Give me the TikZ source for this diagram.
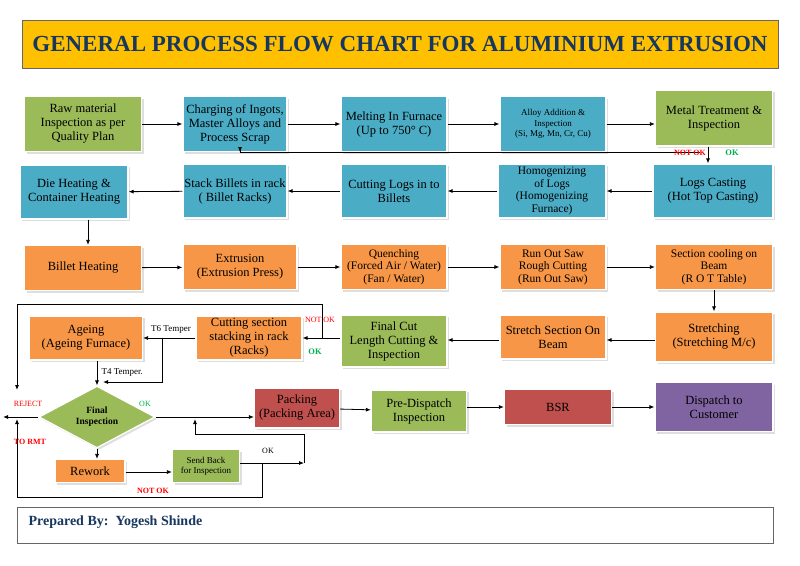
\documentclass[tikz,border=0pt]{standalone}
\usepackage{fontspec}
\setmainfont{Liberation Serif}
\usetikzlibrary{shapes.geometric,arrows.meta,shadows}
\definecolor{gr}{HTML}{9BBB59}\definecolor{bl}{HTML}{4BACC6}\definecolor{orr}{HTML}{F79646}
\definecolor{rd}{HTML}{C0504D}\definecolor{pu}{HTML}{8064A2}\definecolor{tit}{HTML}{FFC000}
\definecolor{nv}{HTML}{17375E}\definecolor{okg}{HTML}{00B050}
\begin{document}
\begin{tikzpicture}[x=1pt,y=-1pt,
 bx/.style={draw=white,line width=1.2pt,align=center,font=\fontsize{12.5}{14}\selectfont,inner sep=1pt,
   drop shadow={shadow xshift=2pt,shadow yshift=-2pt,fill=black!25}},
 ar/.style={-{Latex[length=5pt,width=4pt]},line width=0.8pt},
 ln/.style={line width=0.8pt},
 lab/.style={font=\fontsize{8}{9}\selectfont}]
\useasboundingbox (0,0) rectangle (800,565);
\fill[white] (0,0) rectangle (800,565);
\node[draw=black!60,fill=tit,minimum width=756,minimum height=48,font=\fontsize{23}{26}\selectfont\bfseries,text=nv] (title) at (400,44) {GENERAL PROCESS FLOW CHART FOR ALUMINIUM EXTRUSION};
% row1
\node[bx,fill=gr,minimum width=117,minimum height=55] (raw) at (83,124) {Raw material\\Inspection as per\\Quality Plan};
\node[bx,fill=bl,minimum width=104,minimum height=55] (chg) at (235,124) {Charging of Ingots,\\Master Alloys and\\Process Scrap};
\node[bx,fill=bl,minimum width=106,minimum height=55] (mel) at (394,124) {Melting In Furnace\\(Up to 750° C)};
\node[bx,fill=bl,minimum width=106,minimum height=55,font=\fontsize{9}{10.5}\selectfont] (all) at (553,124) {Alloy Addition \&\\Inspection\\(Si, Mg, Mn, Cr, Cu)};
\node[bx,fill=gr,minimum width=117,minimum height=56] (met) at (714,118) {Metal Treatment \&\\Inspection};
% row2
\node[bx,fill=bl,minimum width=108,minimum height=54] (die) at (74,192) {Die Heating \&\\Container Heating};
\node[bx,fill=bl,minimum width=104,minimum height=54] (stk) at (235,191) {Stack Billets in rack\\( Billet Racks)};
\node[bx,fill=bl,minimum width=106,minimum height=54] (cut) at (394,191) {Cutting Logs in to\\Billets};
\node[bx,fill=bl,minimum width=108,minimum height=54,font=\fontsize{11.5}{12.5}\selectfont] (hom) at (552,191) {Homogenizing\\of Logs\\(Homogenizing\\Furnace)};
\node[bx,fill=bl,minimum width=120,minimum height=54] (log) at (713,191) {Logs Casting\\(Hot Top Casting)};
% row3
\node[bx,fill=orr,minimum width=117,minimum height=45] (bil) at (83,268) {Billet Heating};
\node[bx,fill=orr,minimum width=114,minimum height=45] (ext) at (240,267) {Extrusion\\(Extrusion Press)};
\node[bx,fill=orr,minimum width=106,minimum height=45,font=\fontsize{11.5}{12.5}\selectfont] (que) at (394,267) {Quenching\\(Forced Air / Water)\\(Fan / Water)};
\node[bx,fill=orr,minimum width=106,minimum height=45,font=\fontsize{11.5}{12.5}\selectfont] (run) at (553,267) {Run Out Saw\\Rough Cutting\\(Run Out Saw)};
\node[bx,fill=orr,minimum width=117,minimum height=45,font=\fontsize{11.5}{12.5}\selectfont] (sec) at (714,267) {Section cooling on\\Beam\\(R O T Table)};
% row4
\node[bx,fill=orr,minimum width=117,minimum height=50] (str) at (714,337) {Stretching\\(Stretching M/c)};
\node[bx,fill=orr,minimum width=106,minimum height=44] (ssb) at (553,337) {Stretch Section On\\Beam};
\node[bx,fill=gr,minimum width=106,minimum height=52] (fc) at (394,341) {Final Cut\\Length Cutting \&\\Inspection};
\node[bx,fill=orr,minimum width=106,minimum height=44] (csr) at (249,338) {Cutting section\\stacking in rack\\(Racks)};
\node[bx,fill=orr,minimum width=113,minimum height=44] (age) at (86,338) {Ageing\\(Ageing Furnace)};
% row5
\node[diamond,draw=white,line width=1.2pt,fill=gr,minimum width=116,minimum height=56,inner sep=0pt,align=center,font=\fontsize{9.5}{11}\selectfont\bfseries,drop shadow={shadow xshift=2pt,shadow yshift=-2pt,fill=black!25}] (fi) at (97,417) {Final\\Inspection};
\node[bx,fill=rd,minimum width=85,minimum height=40] (pak) at (297,408) {Packing\\(Packing Area)};
\node[bx,fill=gr,minimum width=95,minimum height=42] (pre) at (419,411) {Pre-Dispatch\\Inspection};
\node[bx,fill=rd,minimum width=107,minimum height=35] (bsr) at (558,407) {BSR};
\node[bx,fill=pu,minimum width=118,minimum height=49] (dis) at (714,407) {Dispatch to\\Customer};
\node[bx,fill=orr,minimum width=70,minimum height=23] (rew) at (90,471) {Rework};
\node[bx,fill=gr,minimum width=67,minimum height=33,font=\fontsize{9}{10}\selectfont] (sb) at (206,466) {Send Back\\for Inspection};
\node[draw=black!60,minimum width=756,minimum height=36,anchor=west] (prep) at (17,525) {};
\node[anchor=west,font=\fontsize{14}{16}\selectfont\bfseries,text=nv] (preptext) at (25,522) {Prepared By:\ \ Yogesh Shinde};
% arrows
\draw[ar] (raw) -- (chg); \draw[ar] (chg) -- (mel); \draw[ar] (mel) -- (all); \draw[ar] (all.east) -- (met.west|-all.east);
\draw[ar] (met.south-|708,0) -- (log.north-|708,0);
\draw[ar] (700,152) -- (240,152) -- (chg.south-|240,0);
\node[text=red,font=\fontsize{8}{9}\selectfont\bfseries] (nok1) at (690,153) {NOT OK};
\node[text=okg,font=\fontsize{8.5}{9}\selectfont\bfseries] (ok1) at (732,153) {OK};
\draw[ar] (log) -- (hom); \draw[ar] (hom) -- (cut); \draw[ar] (cut) -- (stk); \draw[ar] (stk) -- (die);
\draw[ar] (die.south-|88,0) -- (bil.north-|88,0);
\draw[ar] (bil) -- (ext); \draw[ar] (ext) -- (que); \draw[ar] (que) -- (run); \draw[ar] (run) -- (sec);
\draw[ar] (sec) -- (str); \draw[ar] (str.west|-0,340) -- (ssb.east|-0,340); \draw[ar] (ssb.west|-0,340) -- (fc.east|-0,340);
\draw[ar] (fc.west|-0,338) -- (csr.east|-0,338);
\draw[ln] (322,338) -- (322,304) -- (17,304); \draw[ar] (17,304) -- (17,390);
\node[lab,text=red] (nok2) at (320,320) {NOT OK};
\node[text=okg,font=\fontsize{8.5}{9}\selectfont\bfseries] (ok2) at (315,352) {OK};
\draw[ar] (csr.west|-0,338) -- (age.east|-0,338);
\node[font=\fontsize{9}{10}\selectfont] (t6) at (171,329) {T6 Temper};
\draw[ar] (162,338) -- (162,382) -- (103,382);
\draw[ar] (age.south-|97,0) -- (fi.north);
\node[font=\fontsize{9}{10}\selectfont,anchor=west] (t4) at (98,372) {T4 Temper.};
\draw[ar] (fi.west) -- (3,417);
\node[lab,text=red] (rej) at (28,404) {REJECT};
\draw[ar] (fi.east) -- (pak.west|-fi.east);
\node[lab,text=okg] (ok3) at (145,404) {OK};
\draw[ar] (pak) -- (pre); \draw[ar] (pre.east|-bsr) -- (bsr); \draw[ar] (bsr) -- (dis);
\draw[ar] (fi.south) -- (rew.north-|fi.south);
\draw[ar] (rew.east|-0,472) -- (sb.west|-0,472);
\draw[ar] (sb.east|-0,463) -- (304,463);
\draw[ar] (304,463) -- (304,434) -- (195,434) -- (195,419);
\node[lab] (ok4) at (268,451) {OK};
\draw[ar] (262,463) -- (262,497) -- (17,497) -- (17,419);
\node[text=red,font=\fontsize{8}{9}\selectfont\bfseries] (nok3) at (153,491) {NOT OK};
\node[text=red,font=\fontsize{8}{9}\selectfont\bfseries] (rmt) at (30,442) {TO RMT};
\end{tikzpicture}
\end{document}
